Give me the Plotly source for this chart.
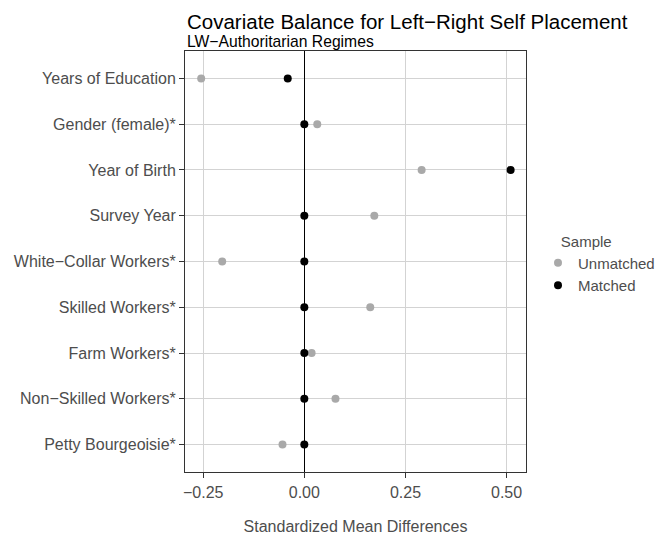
import plotly.graph_objects as go

# Covariates, top to bottom as in the love plot
covariates = [
    "Years of Education",
    "Gender (female)*",
    "Year of Birth",
    "Survey Year",
    "White\u2212Collar Workers*",
    "Skilled Workers*",
    "Farm Workers*",
    "Non\u2212Skilled Workers*",
    "Petty Bourgeoisie*",
]

# Standardized mean differences
smd_unmatched = [-0.255, 0.032, 0.290, 0.173, -0.203, 0.163, 0.018, 0.077, -0.054]
smd_matched = [-0.041, 0.0, 0.510, 0.0, 0.0, 0.0, 0.0, 0.0, 0.0]

x_ticks = [-0.25, 0.0, 0.25, 0.5]

title_txt = "Covariate Balance for Left\u2212Right Self Placement"
subtitle_txt = "LW\u2212Authoritarian Regimes"

grey_txt = "#4d4d4d"
font_fam = "Liberation Sans, Arial, sans-serif"

fig = go.Figure()
fig.add_trace(go.Scatter(x=smd_unmatched, y=covariates, mode="markers", name="Unmatched",
                         marker=dict(color="#a9a9a9", size=8)))
fig.add_trace(go.Scatter(x=smd_matched, y=covariates, mode="markers", name="Matched",
                         marker=dict(color="#000000", size=8)))

# title and subtitle in one text block so they sit tight like ggplot's
head_txt = ('<span style="font-size:20.5px">' + title_txt + '</span><br>'
            '<span style="font-size:15.7px">' + subtitle_txt + '</span>')

# the page body adds 8px on top/left, so the figure is 8px smaller
fig.update_layout(
    width=657, height=527,
    margin=dict(l=177, r=139, t=43, b=63),
    paper_bgcolor="white", plot_bgcolor="white",
    font=dict(family=font_fam, size=16, color=grey_txt),
    legend=dict(title=dict(text="\u00a0" * 5 + "Sample", font=dict(size=15, color=grey_txt)),
                font=dict(size=15, color=grey_txt),
                xref="container", yref="container", x=(538 - 8) / 657, y=1 - (227 - 8) / 527,
                xanchor="left", yanchor="top", itemwidth=30, tracegroupgap=0,
                bgcolor="rgba(0,0,0,0)"),
    annotations=[
        dict(text=head_txt, xref="paper", yref="paper", align="left",
             x=0, y=1 + 42 / 421, xanchor="left", yanchor="top", xshift=1, showarrow=False,
             borderpad=0, font=dict(size=13.6, color="black")),
    ],
)

fig.update_xaxes(
    range=[-0.295, 0.548], tickvals=x_ticks, tickformat=".2f", automargin=False,
    showgrid=True, gridcolor="#d3d3d3", gridwidth=1,
    zeroline=True, zerolinecolor="black", zerolinewidth=1,
    showline=True, mirror=True, linecolor="#333333", linewidth=1,
    ticks="outside", ticklen=5, tickcolor="#333333", ticklabelstandoff=1,
    title=dict(text="Standardized Mean Differences", standoff=22, font=dict(size=16, color=grey_txt)),
)
fig.update_yaxes(
    type="category", categoryorder="array", categoryarray=covariates[::-1],
    range=[-0.6, len(covariates) - 0.4], automargin=False,
    showgrid=True, gridcolor="#d3d3d3", gridwidth=1,
    showline=True, mirror=True, linecolor="#333333", linewidth=1,
    ticks="outside", ticklen=5, tickcolor="#333333",
)

fig.write_html("out.html")
